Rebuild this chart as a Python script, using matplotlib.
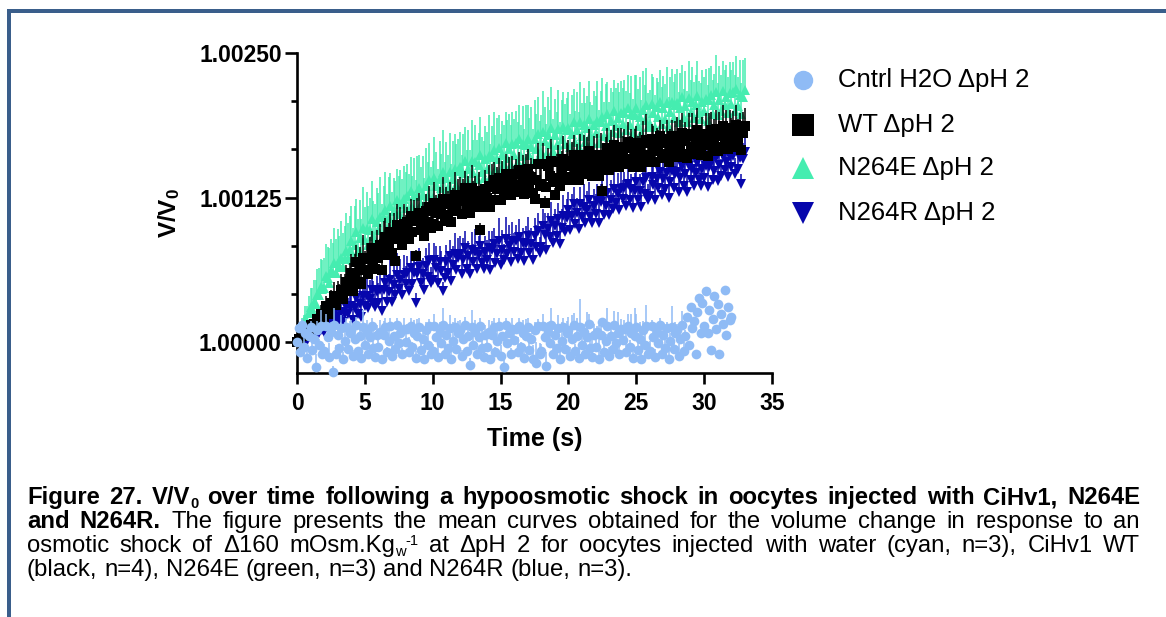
import numpy as np
import matplotlib

matplotlib.use("Agg")
import matplotlib.pyplot as plt
from matplotlib.lines import Line2D
from matplotlib.patches import Rectangle

plt.rcParams["font.family"] = ["Liberation Sans", "DejaVu Sans"]
plt.rcParams["mathtext.default"] = "regular"

W, H = 1166, 617

# ---------------------------------------------------------------------------
# Data: V/V0 - 1, in units of 1e-5, one value every 0.125 s (16 per row = 2 s)
# ---------------------------------------------------------------------------
DT = 0.125

cntrl_mean = [
    0, 12, -9, 15, -4, 8, -14, 5, 13, -7, 3, -22, 10, -3, 14, -10,
    -8, 14, 4, -13, 9, -26, 15, -10, 6, -5, 12, -15, 1, 13, -6, 8,
    10, -12, 3, 15, -8, 5, -14, 13, -3, 9, -10, 4, 14, -5, -13, 6,
    -4, 9, -15, 6, 13, -9, 1, 14, -12, 5, -6, 15, -1, 8, -10, 11,
    0, 11, -9, 14, -4, 8, -14, 5, 13, -7, 3, -15, 10, -3, 14, -10,
    -8, 14, 4, -13, 9, -1, 15, -10, 6, -5, 12, -15, 1, 13, -6, 8,
    10, -12, 3, 15, -8, 5, -20, 13, -3, 9, -10, 4, 14, -5, -13, 6,
    -4, 9, -15, 6, 13, -9, 1, 14, -12, 5, -22, 15, -1, 8, -10, 11,
    2, 11, -9, 14, -4, 8, -14, 5, 13, -7, 3, -15, 10, -18, 14, -10,
    -8, 14, 4, -21, 9, -1, 15, -10, 6, -5, 12, -15, 1, 13, -6, 8,
    10, -12, 3, 15, -8, 5, -14, 13, -3, 9, -10, 4, 16, -5, -13, 6,
    -4, 9, -15, 6, 17, -9, 1, 14, -12, 5, -6, 15, -1, 8, -10, 11,
    2, 11, -9, 14, -4, 8, -14, 5, 13, -7, 3, -15, 10, -3, 14, -10,
    -8, 14, 4, -13, 9, -1, 15, -10, 6, -5, 12, -15, 1, 13, -6, 8,
    10, -12, 3, 15, -8, 5, 22, -3, 30, 12, 18, -10, 26, 38, 8, 34,
    14, 44, 8, 28, -7, 20, 40, 11, 33, -10, 24, 16, 45, 6, 30, 19,
    22,
]
cntrl_err = [
    1, 4, 6, 5, 8, 3, 7, 10, 5, 9, 4, 12, 8, 6, 14, 5,
    6, 10, 4, 12, 8, 5, 14, 7, 9, 3, 11, 6, 16, 8, 5, 10,
    9, 5, 13, 7, 4, 11, 6, 15, 8, 10, 5, 12, 7, 18, 6, 9,
    6, 10, 4, 12, 8, 5, 14, 7, 9, 3, 11, 6, 16, 8, 5, 10,
    9, 5, 13, 7, 4, 11, 6, 15, 8, 10, 5, 12, 7, 18, 6, 9,
    6, 10, 4, 12, 8, 5, 14, 7, 9, 3, 11, 6, 16, 8, 5, 10,
    9, 5, 13, 7, 4, 11, 6, 15, 8, 10, 5, 12, 7, 18, 6, 9,
    6, 10, 4, 12, 8, 5, 14, 7, 9, 3, 11, 6, 16, 8, 5, 10,
    9, 5, 13, 7, 4, 11, 6, 15, 8, 10, 5, 12, 7, 18, 6, 9,
    6, 10, 4, 12, 8, 5, 14, 7, 9, 3, 11, 6, 16, 8, 5, 10,
    12, 8, 20, 10, 6, 16, 9, 24, 11, 7, 14, 22, 8, 13, 18, 10,
    9, 5, 30, 7, 4, 11, 6, 15, 8, 10, 5, 12, 7, 18, 6, 9,
    12, 8, 20, 10, 6, 16, 9, 24, 11, 7, 14, 22, 8, 13, 18, 10,
    9, 5, 13, 7, 4, 11, 6, 15, 8, 10, 5, 12, 7, 18, 6, 9,
    6, 10, 4, 12, 8, 5, 0, 0, 0, 0, 0, 0, 0, 0, 0, 0,
    0, 0, 0, 0, 0, 0, 0, 0, 0, 0, 0, 0, 0, 0, 0, 0,
    0,
]

wt_mean = [
    0, 3, 1, 7, 5, 9, 6, 11, 15, 11, 16, 13, 20, 18, 24, 20,
    21, 31, 28, 24, 34, 33, 40, 32, 40, 38, 45, 37, 45, 52, 46, 53,
    60, 44, 57, 69, 52, 64, 50, 73, 62, 73, 59, 72, 81, 68, 63, 80,
    73, 84, 62, 85, 91, 75, 84, 95, 77, 91, 70, 101, 89, 97, 84, 102,
    94, 104, 89, 109, 95, 105, 74, 105, 112, 97, 105, 92, 113, 104, 117, 99,
    102, 120, 112, 100, 118, 111, 124, 105, 119, 110, 124, 104, 117, 127, 113, 124,
    127, 111, 122, 133, 115, 126, 112, 133, 122, 131, 117, 128, 97, 122, 117, 132,
    125, 135, 117, 134, 140, 123, 132, 142, 123, 136, 128, 145, 133, 140, 127, 144,
    136, 145, 130, 149, 135, 144, 128, 143, 150, 135, 143, 129, 124, 140, 154, 135,
    137, 154, 120, 134, 152, 144, 157, 138, 127, 142, 156, 135, 149, 158, 143, 155,
    157, 140, 152, 162, 145, 155, 140, 162, 150, 159, 145, 156, 165, 150, 144, 160,
    152, 162, 144, 161, 131, 150, 158, 168, 149, 162, 153, 170, 158, 165, 151, 168,
    160, 169, 154, 173, 158, 168, 151, 166, 172, 158, 165, 151, 172, 162, 175, 156,
    159, 176, 168, 156, 173, 165, 178, 159, 172, 163, 176, 156, 169, 178, 163, 174,
    177, 160, 171, 181, 163, 174, 159, 180, 169, 178, 163, 174, 183, 168, 162, 177,
    170, 180, 161, 178, 183, 166, 174, 184, 165, 178, 169, 187, 174, 181, 167, 184,
    176, 185, 169, 188, 173, 182, 166, 181, 187,
]
wt_err = [
    1, 1, 2, 2, 3, 3, 4, 4, 5, 5, 6, 6, 7, 7, 8, 8,
    9, 9, 10, 10, 11, 11, 12, 12, 13, 12, 14, 13, 14, 15, 14, 15,
    16, 13, 19, 15, 12, 18, 14, 20, 17, 13, 16, 19, 15, 14, 18, 17,
    14, 18, 6, 20, 16, 13, 19, 17, 15, 21, 6, 18, 16, 20, 13, 17,
    16, 13, 19, 15, 12, 18, 6, 20, 17, 13, 16, 19, 15, 14, 18, 17,
    14, 18, 15, 20, 16, 13, 19, 17, 15, 21, 14, 18, 16, 20, 13, 17,
    16, 13, 19, 15, 12, 18, 14, 20, 17, 13, 16, 19, 6, 14, 18, 17,
    14, 18, 15, 20, 16, 13, 19, 17, 15, 21, 14, 18, 16, 20, 13, 17,
    16, 13, 19, 15, 12, 18, 14, 20, 17, 13, 16, 19, 6, 14, 18, 17,
    14, 18, 6, 20, 16, 13, 19, 17, 6, 21, 14, 18, 16, 20, 13, 17,
    18, 15, 21, 17, 20, 16, 22, 18, 15, 20, 17, 21, 19, 16, 22, 18,
    14, 18, 15, 20, 6, 13, 19, 17, 15, 21, 14, 18, 16, 20, 13, 17,
    18, 15, 21, 17, 20, 16, 22, 18, 15, 20, 17, 21, 19, 16, 22, 18,
    16, 13, 19, 15, 12, 18, 14, 20, 17, 13, 16, 19, 15, 14, 18, 17,
    18, 15, 21, 17, 20, 16, 22, 18, 15, 20, 17, 21, 19, 16, 22, 18,
    14, 18, 15, 20, 16, 13, 19, 17, 15, 21, 14, 18, 16, 20, 13, 17,
    18, 15, 21, 17, 20, 16, 22, 18, 15,
]

n264e_mean = [
    0, 6, 6, 14, 14, 20, 18, 25, 30, 28, 34, 33, 41, 41, 48, 46,
    47, 57, 55, 51, 61, 60, 68, 60, 68, 65, 73, 65, 72, 79, 73, 80,
    87, 71, 84, 95, 79, 90, 76, 99, 88, 98, 84, 97, 106, 92, 87, 104,
    97, 108, 90, 108, 114, 98, 107, 118, 99, 113, 105, 123, 111, 119, 106, 124,
    116, 126, 111, 131, 117, 126, 110, 126, 133, 119, 127, 114, 135, 126, 140, 122,
    125, 142, 135, 123, 141, 133, 147, 128, 142, 133, 147, 127, 141, 150, 136, 148,
    151, 134, 146, 157, 139, 150, 136, 157, 146, 156, 141, 153, 162, 147, 142, 158,
    150, 161, 142, 160, 166, 149, 158, 168, 149, 162, 154, 172, 159, 167, 153, 171,
    162, 172, 156, 176, 161, 171, 154, 170, 176, 162, 169, 156, 176, 167, 180, 162,
    164, 182, 174, 162, 179, 171, 185, 165, 179, 170, 184, 163, 176, 186, 171, 183,
    185, 169, 180, 190, 173, 183, 169, 190, 178, 188, 173, 185, 193, 178, 173, 188,
    181, 191, 172, 190, 195, 178, 187, 197, 177, 191, 182, 200, 187, 194, 181, 198,
    189, 199, 183, 202, 188, 197, 180, 196, 202, 187, 195, 181, 201, 192, 205, 186,
    189, 206, 198, 186, 203, 195, 208, 189, 202, 193, 207, 186, 199, 208, 194, 205,
    207, 190, 202, 212, 194, 204, 190, 211, 199, 208, 194, 205, 213, 198, 193, 208,
    200, 210, 191, 209, 214, 197, 205, 216, 196, 209, 200, 217, 205, 212, 198, 215,
    206, 216, 200, 219, 204, 214, 197, 212, 218,
]
n264e_err = [
    1, 3, 5, 7, 9, 11, 13, 15, 17, 19, 20, 21, 22, 23, 24, 25,
    26, 28, 27, 30, 28, 26, 31, 29, 30, 27, 32, 29, 28, 33, 30, 29,
    31, 28, 34, 29, 27, 33, 30, 35, 29, 32, 34, 28, 33, 30, 32, 29,
    32, 35, 29, 27, 33, 30, 36, 28, 31, 29, 34, 27, 33, 30, 35, 28,
    31, 28, 34, 29, 27, 33, 30, 35, 29, 32, 34, 28, 33, 30, 32, 29,
    32, 35, 29, 27, 33, 30, 36, 28, 31, 29, 34, 27, 33, 30, 35, 28,
    31, 28, 34, 29, 27, 33, 30, 35, 29, 32, 34, 28, 33, 30, 32, 29,
    32, 35, 29, 27, 33, 30, 36, 28, 31, 29, 34, 27, 33, 30, 35, 28,
    31, 28, 34, 29, 27, 33, 30, 35, 29, 32, 34, 28, 33, 30, 32, 29,
    32, 35, 29, 27, 33, 30, 36, 28, 31, 29, 34, 27, 33, 30, 35, 28,
    31, 28, 34, 29, 27, 33, 30, 35, 29, 32, 34, 28, 33, 30, 32, 29,
    32, 35, 29, 27, 33, 30, 36, 28, 31, 29, 34, 27, 33, 30, 35, 28,
    31, 28, 34, 29, 27, 33, 30, 35, 29, 32, 34, 28, 33, 30, 32, 29,
    29, 26, 31, 28, 25, 30, 27, 32, 28, 30, 31, 26, 30, 28, 31, 27,
    29, 26, 31, 28, 25, 30, 27, 32, 28, 30, 31, 26, 30, 28, 31, 27,
    29, 26, 31, 28, 25, 30, 27, 32, 28, 30, 31, 26, 30, 28, 31, 27,
    29, 26, 31, 28, 25, 30, 27, 32, 28,
]

n264r_mean = [
    0, 1, 0, 3, 1, 3, 1, 4, 6, 4, 7, 5, 9, 8, 12, 10,
    9, 18, 15, 10, 19, 17, 24, 15, 22, 19, 26, 17, 24, 30, 24, 30,
    31, 19, 29, 38, 24, 33, 22, 40, 31, 40, 29, 37, 45, 34, 30, 43,
    34, 45, 27, 45, 51, 35, 43, 54, 35, 49, 41, 58, 46, 54, 41, 58,
    50, 60, 44, 64, 50, 60, 34, 59, 65, 51, 59, 45, 66, 56, 70, 51,
    54, 71, 64, 51, 69, 61, 44, 55, 69, 60, 74, 53, 67, 76, 62, 73,
    76, 59, 71, 81, 63, 74, 59, 80, 69, 78, 63, 75, 83, 68, 63, 78,
    71, 81, 62, 80, 85, 68, 76, 87, 67, 80, 71, 89, 76, 83, 69, 87,
    78, 87, 72, 91, 77, 86, 70, 85, 92, 77, 85, 71, 92, 82, 96, 77,
    82, 100, 93, 80, 98, 91, 105, 86, 100, 92, 106, 85, 99, 109, 95, 107,
    114, 97, 109, 119, 102, 112, 98, 119, 108, 117, 103, 114, 123, 108, 103, 118,
    111, 122, 103, 121, 126, 110, 118, 129, 110, 123, 115, 132, 120, 128, 114, 132,
    124, 133, 118, 137, 123, 132, 116, 131, 138, 123, 131, 117, 138, 128, 142, 123,
    126, 143, 136, 123, 141, 133, 147, 127, 141, 132, 146, 125, 138, 148, 133, 145,
    147, 130, 142, 152, 135, 145, 130, 152, 140, 150, 135, 146, 155, 140, 135, 150,
    142, 152, 134, 151, 157, 140, 148, 159, 139, 153, 144, 161, 149, 156, 143, 160,
    151, 161, 145, 165, 150, 159, 137, 158, 164,
]
n264r_err = [
    1, 1, 2, 2, 2, 3, 3, 4, 4, 5, 5, 6, 6, 7, 7, 8,
    8, 9, 9, 10, 10, 11, 11, 12, 12, 13, 12, 13, 14, 13, 14, 15,
    16, 14, 19, 15, 17, 13, 18, 15, 16, 20, 14, 17, 15, 19, 16, 14,
    17, 15, 19, 16, 14, 18, 16, 20, 15, 17, 14, 19, 16, 18, 15, 17,
    16, 14, 19, 15, 17, 13, 8, 15, 16, 20, 14, 17, 15, 19, 16, 14,
    17, 15, 19, 16, 14, 18, 8, 20, 15, 17, 14, 19, 16, 18, 15, 17,
    16, 14, 19, 15, 17, 13, 18, 15, 16, 20, 14, 17, 15, 19, 16, 14,
    17, 15, 19, 16, 14, 18, 16, 20, 15, 17, 14, 19, 16, 18, 15, 17,
    16, 14, 19, 15, 17, 13, 18, 15, 16, 20, 14, 17, 15, 19, 16, 14,
    17, 15, 19, 16, 14, 18, 16, 20, 15, 17, 14, 19, 16, 18, 15, 17,
    16, 14, 19, 15, 17, 13, 18, 15, 16, 20, 14, 17, 15, 19, 16, 14,
    17, 15, 19, 16, 14, 18, 16, 20, 15, 17, 14, 19, 16, 18, 15, 17,
    16, 14, 19, 15, 17, 13, 18, 15, 16, 20, 14, 17, 15, 19, 16, 14,
    17, 15, 19, 16, 14, 18, 16, 20, 15, 17, 14, 19, 16, 18, 15, 17,
    16, 14, 19, 15, 17, 13, 18, 15, 16, 20, 14, 17, 15, 19, 16, 14,
    17, 15, 19, 16, 14, 18, 16, 20, 15, 17, 14, 19, 16, 18, 15, 17,
    15, 17, 14, 16, 15, 15, 8, 14, 16,
]

labels = ["Cntrl H2O \u0394pH 2", "WT \u0394pH 2", "N264E \u0394pH 2", "N264R \u0394pH 2"]
means = [cntrl_mean, wt_mean, n264e_mean, n264r_mean]
errs = [cntrl_err, wt_err, n264e_err, n264r_err]
colors = ["#8FBBF5", "#000000", "#45EDB0", "#0606AC"]
markers = ["o", "s", "^", "v"]
msizes = [7.0, 6.5, 7.0, 7.0]
zorders = [5, 4, 3, 2]

# ---------------------------------------------------------------------------
fig = plt.figure(figsize=(W / 100, H / 100), dpi=100)
fig.patch.set_facecolor("white")

# page frame
frame_c = "#3A5E8B"
fig.patches.append(Rectangle((7 / W, 1 - 13 / H), 1 - 7 / W, 4 / H,
                             transform=fig.transFigure, color=frame_c, lw=0))
fig.patches.append(Rectangle((7 / W, 0), 4 / W, 1 - 9 / H,
                             transform=fig.transFigure, color=frame_c, lw=0))

ax = fig.add_axes([297 / W, 1 - 373 / H, 475 / W, 320 / H])

for lab, m, e, c, mk, ms, zo in zip(labels, means, errs, colors, markers, msizes, zorders):
    y = 1.0 + np.array(m, dtype=float) * 1e-5
    err = np.array(e, dtype=float) * 1e-5
    t = np.arange(len(y)) * DT
    line, caps, bars = ax.errorbar(
        t, y, yerr=[np.zeros_like(err), err],
        fmt=mk, color=c, ecolor=c, markersize=ms, markeredgewidth=0,
        elinewidth=1.1, capsize=2.6, capthick=1.1, zorder=zo, label=lab,
    )
    for a in [line, *caps, *bars]:
        a.set_clip_on(False)

ax.set_xlim(0, 35)
ax.set_ylim(1 - 26.8e-5, 1.0025)
ax.set_xticks(np.arange(0, 36, 5))
ax.set_yticks([1.0, 1.00125, 1.0025])
ax.set_yticks([1.0 + 0.00125 / 3, 1.0 + 0.0025 / 3, 1.00125 + 0.00125 / 3,
               1.00125 + 0.0025 / 3], minor=True)
ax.set_yticklabels(["1.00000", "1.00125", "1.00250"])

for s in ["top", "right"]:
    ax.spines[s].set_visible(False)
for s in ["left", "bottom"]:
    ax.spines[s].set_linewidth(1.9)

ax.tick_params(axis="both", which="major", width=1.9, labelsize=16.5, direction="out")
ax.tick_params(axis="y", which="major", length=8.5, pad=2.5)
ax.tick_params(axis="y", which="minor", length=4.5, width=1.9)
ax.tick_params(axis="x", which="major", length=8.0, pad=6)
for lbl in ax.get_xticklabels() + ax.get_yticklabels():
    lbl.set_fontweight("bold")

ax.set_xlabel("Time (s)", fontsize=18, fontweight="bold", labelpad=8)
ax.set_ylabel("V/V$_0$", fontsize=17.5, fontweight="bold", labelpad=12)

# legend (drawn by hand to match the larger symbols)
leg_y = [80, 125, 168, 213]
leg_ms = [14, 15.5, 16, 16]
for lab, c, mk, ms, yy in zip(labels, colors, markers, leg_ms, leg_y):
    fig.add_artist(Line2D([803 / W], [1 - yy / H], transform=fig.transFigure,
                          marker=mk, color=c, markersize=ms, markeredgewidth=0,
                          linestyle="none"))
    fig.text(838 / W, 1 - yy / H, lab, fontsize=18.5, va="center", ha="left")

# caption, justified; each word is a list of (text, dy in px, size factor)
renderer = fig.canvas.get_renderer()
CAP_FS = 17.2
LEFT, RIGHT = 27, 1140


def plain(txt):
    return [[(w, 0, 1.0)] for w in txt.split(" ")]


cap_lines = [
    ([(plain("Figure 27."), "bold"),
      ([[("V/V", 0, 1.0), ("0", -4, 0.62)]], "bold"),
      (plain("over time following a hypoosmotic shock in oocytes injected "
             "with CiHv1, N264E"), "bold")], 504, True),
    ([(plain("and N264R."), "bold"),
      (plain("The figure presents the mean curves obtained for the volume "
             "change in response to an"), "normal")], 528, True),
    ([(plain("osmotic shock of \u0394160"), "normal"),
      ([[("mOsm.Kg", 0, 1.0), ("w", -4, 0.62), ("-1", 7, 0.62)]], "normal"),
      (plain("at \u0394pH 2 for oocytes injected with water (cyan, n=3), "
             "CiHv1 WT"), "normal")], 552, True),
    ([(plain("(black, n=4), N264E (green, n=3) and N264R (blue, n=3)."),
       "normal")], 576, False),
]

for groups, ypix, justify in cap_lines:
    words = []
    for wlist, wt in groups:
        for segs in wlist:
            arts = []
            for txt, dy, sc in segs:
                a = fig.text(0, 1 - (ypix - dy) / H, txt, fontsize=CAP_FS * sc,
                             fontweight=wt, va="baseline", ha="left")
                arts.append((a, a.get_window_extent(renderer).width))
            words.append(arts)
    widths = [sum(wd for _, wd in arts) for arts in words]
    if justify:
        gap = (RIGHT - LEFT - sum(widths)) / (len(words) - 1)
    else:
        gap = 0.278 * CAP_FS * 100 / 72
    x = LEFT
    for arts, wdt in zip(words, widths):
        xx = x
        for a, wd in arts:
            a.set_x(xx / W)
            xx += wd
        x += wdt + gap

fig.savefig("out.png", dpi=100, facecolor="white")
